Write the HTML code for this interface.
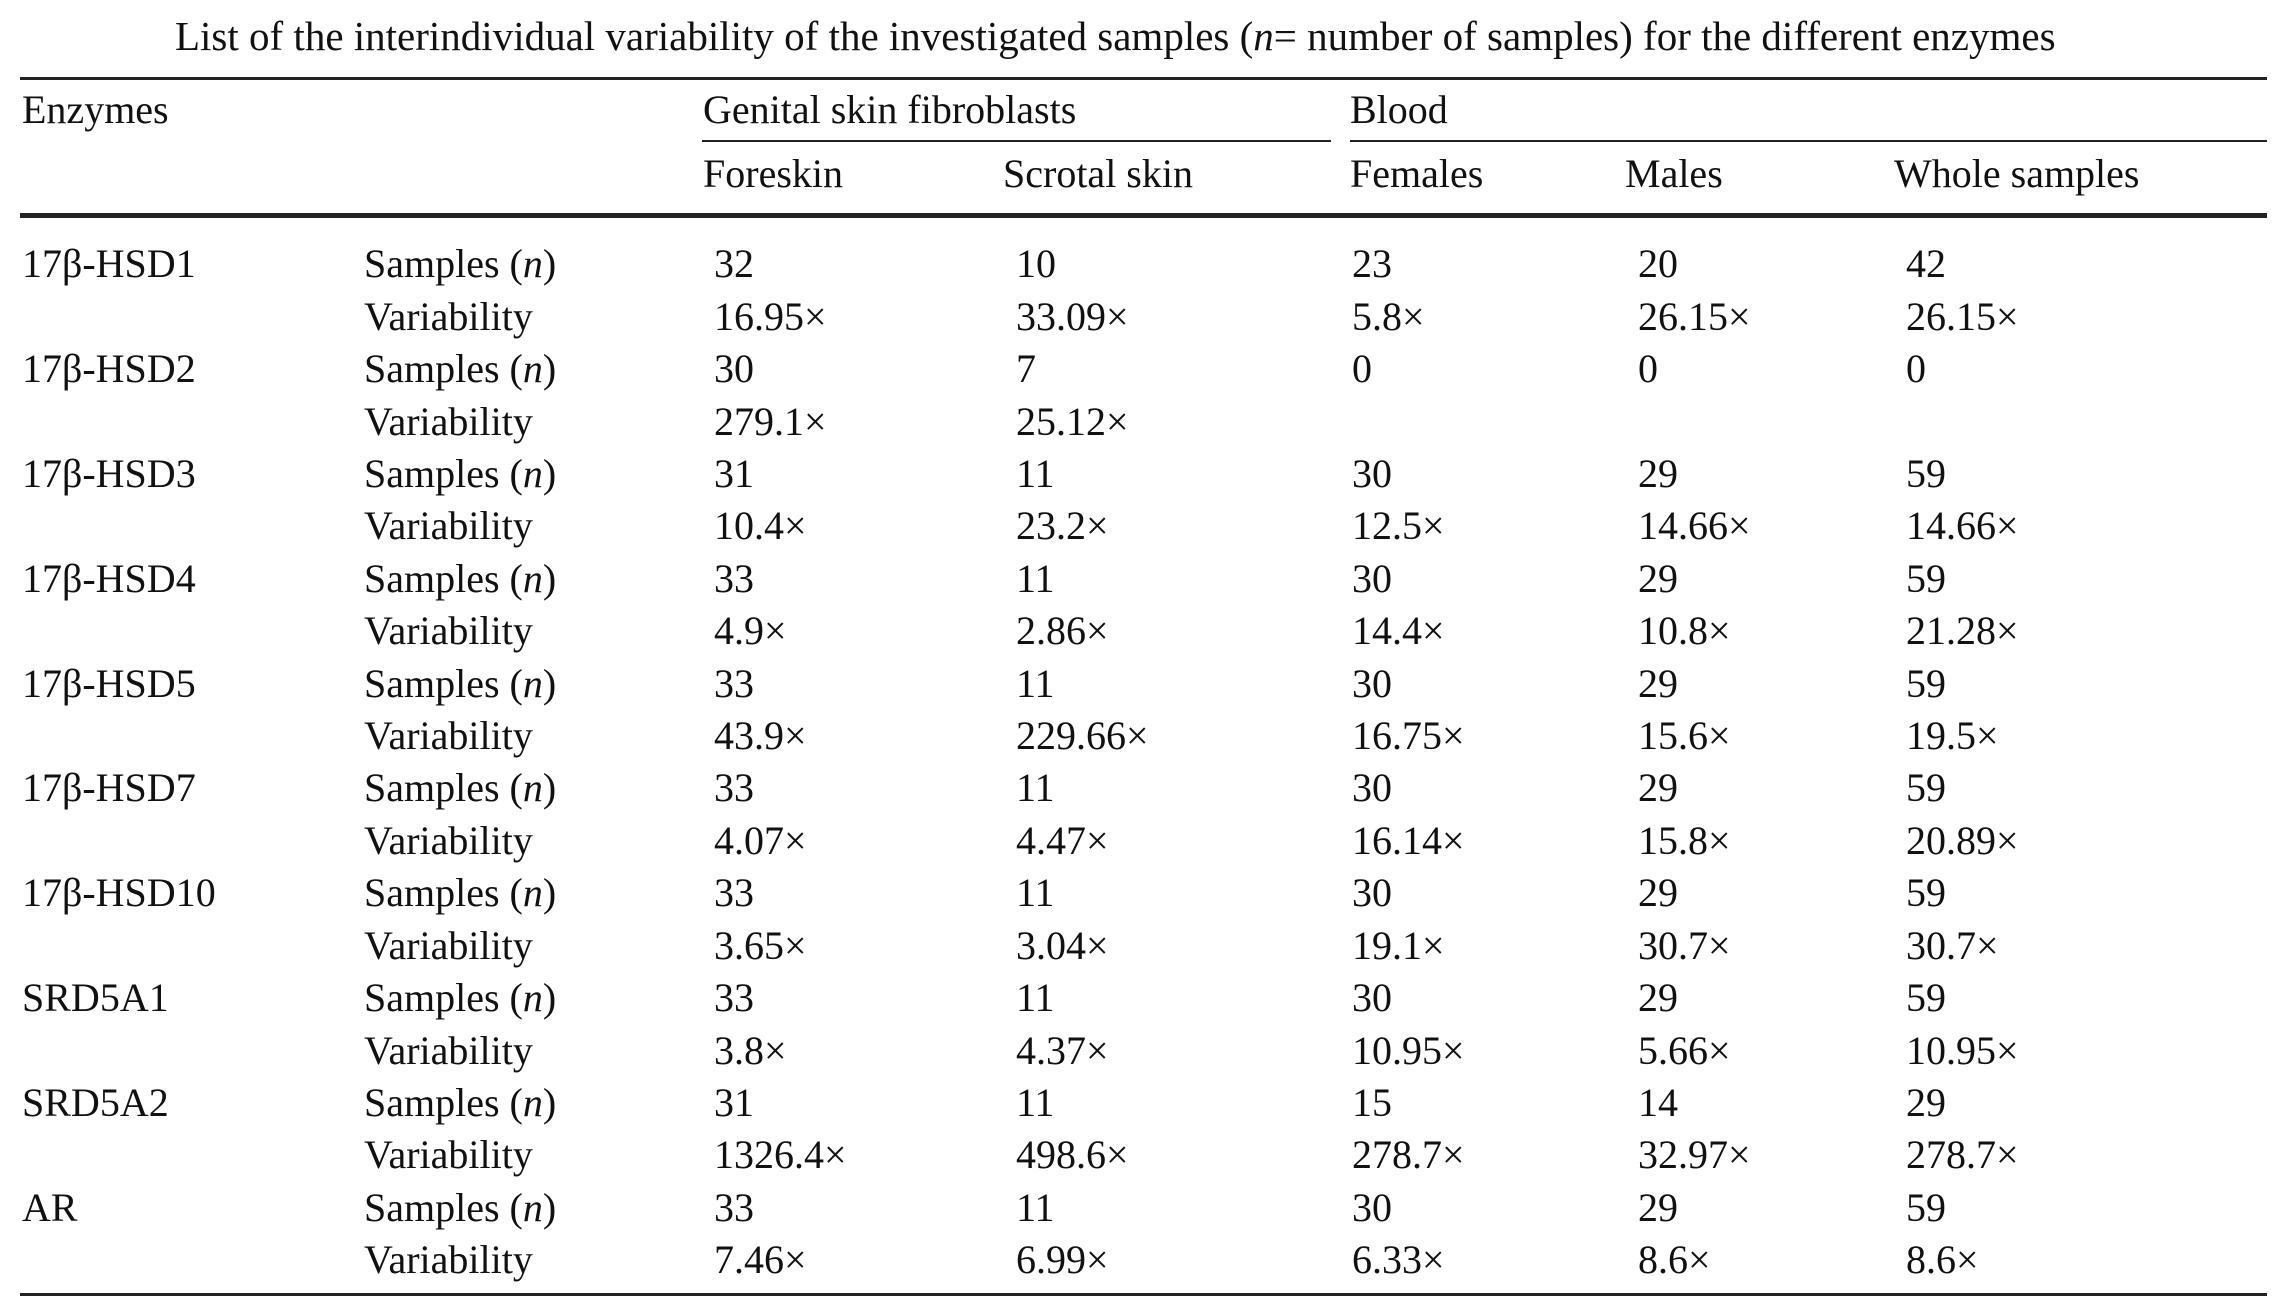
<!DOCTYPE html>
<html><head><meta charset="utf-8"><style>
html,body{margin:0;padding:0;background:#fff;}
body{width:2282px;height:1314px;position:relative;overflow:hidden;font-family:"Liberation Serif","DejaVu Serif",serif;color:#111;}
.t{position:absolute;font-size:40px;line-height:40px;white-space:nowrap;}
.r{position:absolute;background:#222;}
</style></head><body>
<div class="t" style="left:175px;top:16px;font-size:41px;">List of the interindividual variability of the investigated samples (<i>n</i>= number of samples) for the different enzymes</div>
<div class="r" style="left:20px;top:77px;width:2247px;height:3px;"></div>
<div class="t" style="left:22px;top:90px;">Enzymes</div>
<div class="t" style="left:703px;top:90px;">Genital skin fibroblasts</div>
<div class="t" style="left:1350px;top:90px;">Blood</div>
<div class="r" style="left:702px;top:140px;width:629px;height:2px;"></div>
<div class="r" style="left:1350px;top:140px;width:917px;height:2px;"></div>
<div class="t" style="left:703px;top:154px;">Foreskin</div>
<div class="t" style="left:1003px;top:154px;">Scrotal skin</div>
<div class="t" style="left:1350px;top:154px;">Females</div>
<div class="t" style="left:1625px;top:154px;">Males</div>
<div class="t" style="left:1894px;top:154px;">Whole samples</div>
<div class="r" style="left:20px;top:213px;width:2247px;height:5px;"></div>

<div style="position:absolute;left:0;top:1px;">
<div class="t" style="left:22px;top:243px;">17β-HSD1</div><div class="t" style="left:364px;top:243px;">Samples (<i>n</i>)</div><div class="t" style="left:714px;top:243px;">32</div><div class="t" style="left:1016px;top:243px;">10</div><div class="t" style="left:1352px;top:243px;">23</div><div class="t" style="left:1638px;top:243px;">20</div><div class="t" style="left:1906px;top:243px;">42</div>
<div class="t" style="left:364px;top:296px;">Variability</div><div class="t" style="left:714px;top:296px;">16.95×</div><div class="t" style="left:1016px;top:296px;">33.09×</div><div class="t" style="left:1352px;top:296px;">5.8×</div><div class="t" style="left:1638px;top:296px;">26.15×</div><div class="t" style="left:1906px;top:296px;">26.15×</div>

<div class="t" style="left:22px;top:348px;">17β-HSD2</div><div class="t" style="left:364px;top:348px;">Samples (<i>n</i>)</div><div class="t" style="left:714px;top:348px;">30</div><div class="t" style="left:1016px;top:348px;">7</div><div class="t" style="left:1352px;top:348px;">0</div><div class="t" style="left:1638px;top:348px;">0</div><div class="t" style="left:1906px;top:348px;">0</div>
<div class="t" style="left:364px;top:401px;">Variability</div><div class="t" style="left:714px;top:401px;">279.1×</div><div class="t" style="left:1016px;top:401px;">25.12×</div>

<div class="t" style="left:22px;top:453px;">17β-HSD3</div><div class="t" style="left:364px;top:453px;">Samples (<i>n</i>)</div><div class="t" style="left:714px;top:453px;">31</div><div class="t" style="left:1016px;top:453px;">11</div><div class="t" style="left:1352px;top:453px;">30</div><div class="t" style="left:1638px;top:453px;">29</div><div class="t" style="left:1906px;top:453px;">59</div>
<div class="t" style="left:364px;top:505px;">Variability</div><div class="t" style="left:714px;top:505px;">10.4×</div><div class="t" style="left:1016px;top:505px;">23.2×</div><div class="t" style="left:1352px;top:505px;">12.5×</div><div class="t" style="left:1638px;top:505px;">14.66×</div><div class="t" style="left:1906px;top:505px;">14.66×</div>

<div class="t" style="left:22px;top:558px;">17β-HSD4</div><div class="t" style="left:364px;top:558px;">Samples (<i>n</i>)</div><div class="t" style="left:714px;top:558px;">33</div><div class="t" style="left:1016px;top:558px;">11</div><div class="t" style="left:1352px;top:558px;">30</div><div class="t" style="left:1638px;top:558px;">29</div><div class="t" style="left:1906px;top:558px;">59</div>
<div class="t" style="left:364px;top:610px;">Variability</div><div class="t" style="left:714px;top:610px;">4.9×</div><div class="t" style="left:1016px;top:610px;">2.86×</div><div class="t" style="left:1352px;top:610px;">14.4×</div><div class="t" style="left:1638px;top:610px;">10.8×</div><div class="t" style="left:1906px;top:610px;">21.28×</div>

<div class="t" style="left:22px;top:663px;">17β-HSD5</div><div class="t" style="left:364px;top:663px;">Samples (<i>n</i>)</div><div class="t" style="left:714px;top:663px;">33</div><div class="t" style="left:1016px;top:663px;">11</div><div class="t" style="left:1352px;top:663px;">30</div><div class="t" style="left:1638px;top:663px;">29</div><div class="t" style="left:1906px;top:663px;">59</div>
<div class="t" style="left:364px;top:715px;">Variability</div><div class="t" style="left:714px;top:715px;">43.9×</div><div class="t" style="left:1016px;top:715px;">229.66×</div><div class="t" style="left:1352px;top:715px;">16.75×</div><div class="t" style="left:1638px;top:715px;">15.6×</div><div class="t" style="left:1906px;top:715px;">19.5×</div>

<div class="t" style="left:22px;top:767px;">17β-HSD7</div><div class="t" style="left:364px;top:767px;">Samples (<i>n</i>)</div><div class="t" style="left:714px;top:767px;">33</div><div class="t" style="left:1016px;top:767px;">11</div><div class="t" style="left:1352px;top:767px;">30</div><div class="t" style="left:1638px;top:767px;">29</div><div class="t" style="left:1906px;top:767px;">59</div>
<div class="t" style="left:364px;top:820px;">Variability</div><div class="t" style="left:714px;top:820px;">4.07×</div><div class="t" style="left:1016px;top:820px;">4.47×</div><div class="t" style="left:1352px;top:820px;">16.14×</div><div class="t" style="left:1638px;top:820px;">15.8×</div><div class="t" style="left:1906px;top:820px;">20.89×</div>

<div class="t" style="left:22px;top:872px;">17β-HSD10</div><div class="t" style="left:364px;top:872px;">Samples (<i>n</i>)</div><div class="t" style="left:714px;top:872px;">33</div><div class="t" style="left:1016px;top:872px;">11</div><div class="t" style="left:1352px;top:872px;">30</div><div class="t" style="left:1638px;top:872px;">29</div><div class="t" style="left:1906px;top:872px;">59</div>
<div class="t" style="left:364px;top:925px;">Variability</div><div class="t" style="left:714px;top:925px;">3.65×</div><div class="t" style="left:1016px;top:925px;">3.04×</div><div class="t" style="left:1352px;top:925px;">19.1×</div><div class="t" style="left:1638px;top:925px;">30.7×</div><div class="t" style="left:1906px;top:925px;">30.7×</div>

<div class="t" style="left:22px;top:977px;">SRD5A1</div><div class="t" style="left:364px;top:977px;">Samples (<i>n</i>)</div><div class="t" style="left:714px;top:977px;">33</div><div class="t" style="left:1016px;top:977px;">11</div><div class="t" style="left:1352px;top:977px;">30</div><div class="t" style="left:1638px;top:977px;">29</div><div class="t" style="left:1906px;top:977px;">59</div>
<div class="t" style="left:364px;top:1030px;">Variability</div><div class="t" style="left:714px;top:1030px;">3.8×</div><div class="t" style="left:1016px;top:1030px;">4.37×</div><div class="t" style="left:1352px;top:1030px;">10.95×</div><div class="t" style="left:1638px;top:1030px;">5.66×</div><div class="t" style="left:1906px;top:1030px;">10.95×</div>

<div class="t" style="left:22px;top:1082px;">SRD5A2</div><div class="t" style="left:364px;top:1082px;">Samples (<i>n</i>)</div><div class="t" style="left:714px;top:1082px;">31</div><div class="t" style="left:1016px;top:1082px;">11</div><div class="t" style="left:1352px;top:1082px;">15</div><div class="t" style="left:1638px;top:1082px;">14</div><div class="t" style="left:1906px;top:1082px;">29</div>
<div class="t" style="left:364px;top:1134px;">Variability</div><div class="t" style="left:714px;top:1134px;">1326.4×</div><div class="t" style="left:1016px;top:1134px;">498.6×</div><div class="t" style="left:1352px;top:1134px;">278.7×</div><div class="t" style="left:1638px;top:1134px;">32.97×</div><div class="t" style="left:1906px;top:1134px;">278.7×</div>

<div class="t" style="left:22px;top:1187px;">AR</div><div class="t" style="left:364px;top:1187px;">Samples (<i>n</i>)</div><div class="t" style="left:714px;top:1187px;">33</div><div class="t" style="left:1016px;top:1187px;">11</div><div class="t" style="left:1352px;top:1187px;">30</div><div class="t" style="left:1638px;top:1187px;">29</div><div class="t" style="left:1906px;top:1187px;">59</div>
<div class="t" style="left:364px;top:1239px;">Variability</div><div class="t" style="left:714px;top:1239px;">7.46×</div><div class="t" style="left:1016px;top:1239px;">6.99×</div><div class="t" style="left:1352px;top:1239px;">6.33×</div><div class="t" style="left:1638px;top:1239px;">8.6×</div><div class="t" style="left:1906px;top:1239px;">8.6×</div>
</div>
<div class="r" style="left:20px;top:1293px;width:2247px;height:3px;"></div>
</body></html>
